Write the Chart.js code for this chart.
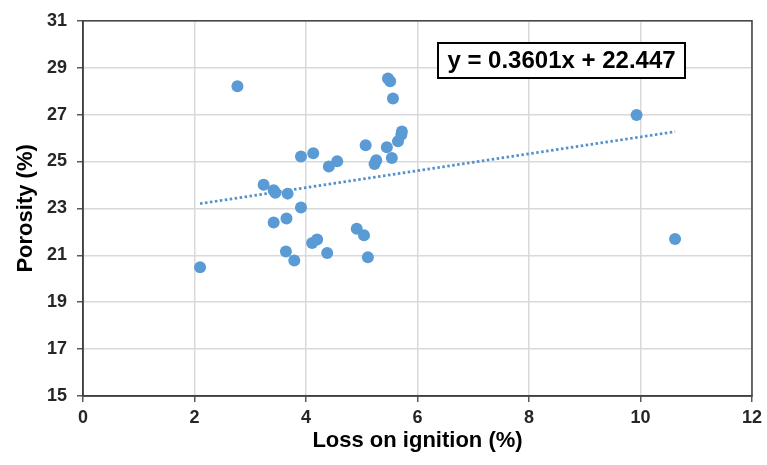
<!DOCTYPE html>
<html>
<head>
<meta charset="utf-8">
<script src="https://cdn.jsdelivr.net/npm/chart.js@4/dist/chart.umd.min.js"></script>
<style>
  html, body { margin: 0; padding: 0; background: #ffffff; }
  #wrap { width: 767px; height: 465px; }
</style>
</head>
<body>
<div id="wrap"><canvas id="c" width="767" height="465"></canvas></div>
<script>
// Loss on ignition (%) of each sample
const lossOnIgnition = [
  2.77, 5.47, 5.51, 5.56, 5.72, 5.71, 5.65, 5.07, 5.45, 5.54,
  4.13, 3.91, 4.56, 4.41, 5.26, 5.23, 3.24, 3.42, 3.45, 3.67,
  3.91, 3.42, 3.65, 4.91, 5.04, 4.11, 4.20, 4.38, 3.64, 3.79,
  5.11, 2.10, 9.93, 10.62
];
// Porosity (%) of the same samples
const porosity = [
  28.21, 28.54, 28.42, 27.69, 26.28, 26.14, 25.86, 25.69, 25.61, 25.15,
  25.35, 25.21, 25.01, 24.79, 25.05, 24.89, 24.01, 23.77, 23.67, 23.63,
  23.04, 22.40, 22.57, 22.13, 21.86, 21.52, 21.67, 21.10, 21.16, 20.78,
  20.92, 20.49, 26.98, 21.70
];
// Linear trend line coefficients
const trendSlope = [0.3601];
const trendIntercept = [22.447];
// Axis tick values
const xTicks = [0, 2, 4, 6, 8, 10, 12];
const yTicks = [15, 17, 19, 21, 23, 25, 27, 29, 31];

const FONT = '"Liberation Sans", Arial, sans-serif';
const BLUE = '#5B9BD5';

const points = lossOnIgnition.map((x, i) => ({ x: x, y: porosity[i] }));
const xMin = Math.min(...lossOnIgnition);
const xMax = Math.max(...lossOnIgnition);
const trend = [xMin, xMax].map(x => ({ x: x, y: trendSlope[0] * x + trendIntercept[0] }));

// Frame around the plot area
const frame = {
  id: 'frame',
  beforeDatasetsDraw(chart) {
    const { ctx, chartArea: a } = chart;
    ctx.save();
    ctx.strokeStyle = '#404040';
    ctx.lineWidth = 1.5;
    ctx.strokeRect(a.left, a.top, a.right - a.left, a.bottom - a.top);
    ctx.restore();
  }
};

// Boxed trend-line equation
const equation = {
  id: 'equation',
  afterDatasetsDraw(chart) {
    const { ctx } = chart;
    const text = 'y = ' + String(trendSlope[0]) + 'x + ' + String(trendIntercept[0]);
    const bx = 438, by = 43, bw = 247, bh = 35;
    ctx.save();
    ctx.fillStyle = '#ffffff';
    ctx.fillRect(bx, by, bw, bh);
    ctx.strokeStyle = '#000000';
    ctx.lineWidth = 2;
    ctx.strokeRect(bx, by, bw, bh);
    ctx.fillStyle = '#000000';
    ctx.font = 'bold 24px ' + FONT;
    ctx.textAlign = 'center';
    ctx.textBaseline = 'middle';
    ctx.fillText(text, bx + bw / 2, by + bh / 2 + 1);
    ctx.restore();
  }
};

new Chart(document.getElementById('c'), {
  type: 'scatter',
  data: {
    datasets: [
      {
        label: 'Porosity',
        data: points,
        backgroundColor: BLUE,
        borderColor: BLUE,
        borderWidth: 0,
        pointRadius: 6,
        order: 1
      },
      {
        type: 'line',
        label: 'Linear trend',
        data: trend,
        borderColor: '#5291cc',
        borderWidth: 2.75,
        borderDash: [2.5, 2.5],
        pointRadius: 0,
        fill: false,
        order: 2
      }
    ]
  },
  options: {
    responsive: false,
    animation: false,
    devicePixelRatio: 1,
    layout: { padding: { top: 14, right: 13, left: 0, bottom: 0 } },
    plugins: { legend: { display: false }, tooltip: { enabled: false } },
    scales: {
      x: {
        type: 'linear',
        min: xTicks[0],
        max: xTicks[xTicks.length - 1],
        afterBuildTicks(scale) { scale.ticks = xTicks.map(v => ({ value: v })); },
        afterFit(scale) { scale.height = 69; },
        ticks: {
          font: { family: FONT, size: 18, weight: 'bold' },
          color: '#262626',
          padding: 5
        },
        grid: { color: '#d9d9d9', lineWidth: 1.5, tickColor: '#595959', tickLength: 6 },
        border: { display: true, color: '#404040', width: 1.5 },
        title: {
          display: true,
          text: 'Loss on ignition (%)',
          font: { family: FONT, size: 22, weight: 'bold' },
          color: '#000000',
          padding: { top: 0, bottom: 11 }
        }
      },
      y: {
        type: 'linear',
        min: yTicks[0],
        max: yTicks[yTicks.length - 1],
        afterBuildTicks(scale) { scale.ticks = yTicks.map(v => ({ value: v })); },
        afterFit(scale) { scale.width = 83; },
        ticks: {
          font: { family: FONT, size: 18, weight: 'bold' },
          color: '#262626',
          padding: 10
        },
        grid: { color: '#d9d9d9', lineWidth: 1.5, tickColor: '#595959', tickLength: 6 },
        border: { display: true, color: '#404040', width: 1.5 },
        title: {
          display: true,
          text: 'Porosity (%)',
          font: { family: FONT, size: 22, weight: 'bold' },
          color: '#000000',
          padding: { top: 13, bottom: 0 }
        }
      }
    }
  },
  plugins: [frame, equation]
});
</script>
</body>
</html>
